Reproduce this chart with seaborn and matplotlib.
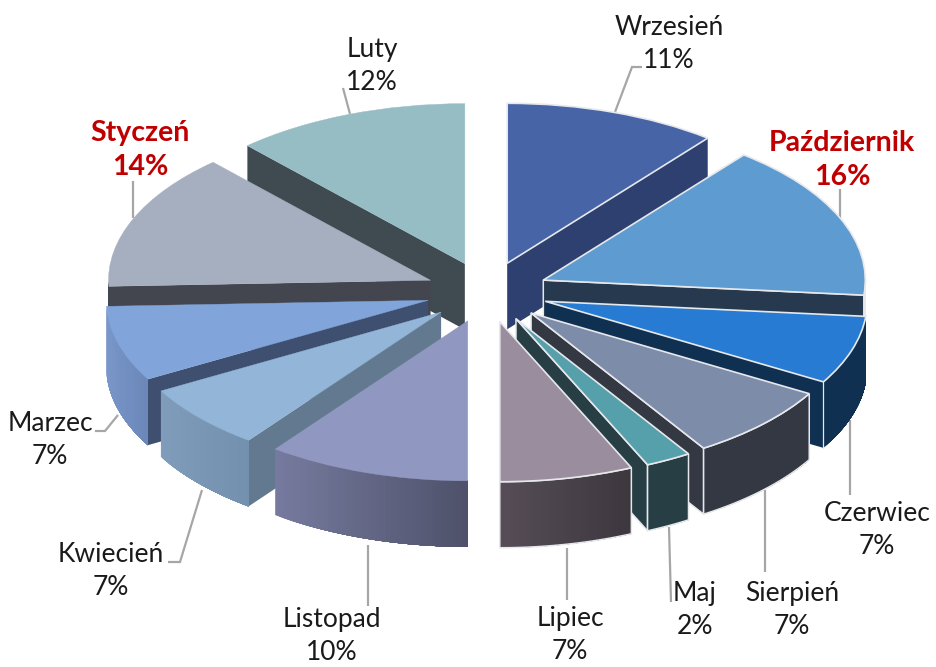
import numpy as np
import matplotlib
matplotlib.use("Agg")
import matplotlib.pyplot as plt
import seaborn as sns

# ---- data ----
months = ["Wrzesień", "Październik", "Czerwiec", "Sierpień", "Maj", "Lipiec",
          "Listopad", "Kwiecień", "Marzec", "Styczeń", "Luty"]
# printed percentages
labels_pct = [11, 16, 7, 7, 2, 7, 10, 7, 7, 14, 12]
# slice sizes as measured on the picture
slice_sizes = [10.7, 15.8, 6.9, 7.6, 2.3, 6.7, 10.2, 6.6, 7.6, 13.8, 11.8]
highlighted = ["Październik", "Styczeń"]

# ---- styles ----
top_colors = ["#4664A6", "#5E9BD0", "#287BD2", "#7D8CA8", "#56A0AC", "#9A8D9E",
              "#9098C2", "#92B5D8", "#81A4DA", "#A5AFC0", "#96BCC4"]
cut_colors = ["#2E4070", "#26394F", "#103052", "#333842", "#263E44", "#3E383F",
              "#50536C", "#63798F", "#3F4F70", "#44464F", "#3F4B50"]
rim_left = ["#2E4070", "#26394F", "#103052", "#333842", "#263E44", "#564D57",
            "#767A9E", "#7F9CBB", "#7A96CA", "#44464F", "#3F4B50"]
rim_right = ["#2E4070", "#26394F", "#103052", "#333842", "#263E44", "#3C363D",
             "#4E5169", "#7391AF", "#6A87B8", "#44464F", "#3F4B50"]
top_outlined = [True] * 6 + [False] * 5
cut_outlined = [False, True, False, True, True, False, False, False, False, False, False]
rim_outlined = [False, True, False, True, True, True, False, False, False, False, False]

W, H = 937, 667
CX, CY, RX, RY = 487, 292, 322, 160
EXPLODE = 0.19
DEPTH = 66 / RY
EDGE = "#E6E8EC"

sns.set_theme(style="white")
plt.rcParams["font.family"] = ["Lato", "DejaVu Sans"]

fig = plt.figure(figsize=(W / 100, H / 100), dpi=100, facecolor="white")
ax = fig.add_axes([0, 0, 1, 1])

wedges, _ = ax.pie(slice_sizes, colors=top_colors, startangle=90, counterclock=False,
                   explode=[EXPLODE] * len(slice_sizes), radius=1)
ax.set_aspect("auto")
ax.set_xlim(-CX / RX, (W - CX) / RX)
ax.set_ylim((CY - H) / RY, CY / RY)
ax.axis("off")

sizes = np.array(slice_sizes, dtype=float)
edges = np.concatenate([[0], np.cumsum(sizes)]) / sizes.sum() * 2 * np.pi
mids = (edges[:-1] + edges[1:]) / 2
# painter's order: slices whose apex is further back are drawn first
order = np.argsort(-np.cos(mids))

for rank, i in enumerate(order):
    z = 10 + rank * 5
    a0, a1 = edges[i], edges[i + 1]
    ox, oy = EXPLODE * np.sin(mids[i]), EXPLODE * np.cos(mids[i])
    line = dict(edgecolor=EDGE, linewidth=1.1) if cut_outlined[i] else dict(linewidth=0)

    # radial cut faces turned towards the viewer
    for a, show in ((a1, 0.01 < a1 < np.pi - 0.01), (a0, np.pi + 0.01 < a0 < 2 * np.pi - 0.01)):
        if show:
            px, py = ox + np.sin(a), oy + np.cos(a)
            ax.fill([ox, px, px, ox], [oy, py, py - DEPTH, oy - DEPTH],
                    facecolor=cut_colors[i], zorder=z, joinstyle="round", **line)

    # outer wall, front half only; each band runs to the far end so no seams show
    lo, hi = max(a0, np.pi / 2), min(a1, 3 * np.pi / 2)
    if hi > lo:
        angs = np.linspace(lo, hi, 41)
        xs, ys = ox + np.sin(angs), oy + np.cos(angs)
        xmin, xmax = xs.min(), xs.max()
        pal = sns.blend_palette([rim_left[i], rim_right[i]], 41)
        # bands ordered from the left end of the wall to the right end
        seq = np.argsort(xs)
        xs_o, ys_o = xs[seq], ys[seq]
        for k in range(40):
            t = (xs_o[k] - xmin) / max(xmax - xmin, 1e-6)
            c = pal[int(round(t * 40))]
            ax.fill(np.r_[xs_o[k:], xs_o[k:][::-1]], np.r_[ys_o[k:], ys_o[k:][::-1] - DEPTH],
                    facecolor=c, linewidth=0, zorder=z + 1)
        if rim_outlined[i]:
            ax.fill(np.r_[xs, xs[::-1]], np.r_[ys, ys[::-1] - DEPTH],
                    facecolor="none", edgecolor=EDGE, linewidth=1.1, zorder=z + 2)
        elif top_outlined[i]:
            # only the front corner is picked out
            ax.plot([xs[-1], xs[-1]], [ys[-1], ys[-1] - DEPTH], color=EDGE, lw=0.9, zorder=z + 2)

    # top face, drawn by the pie itself
    wedges[i].set_zorder(z + 3)
    if top_outlined[i]:
        wedges[i].set_edgecolor(EDGE)
        wedges[i].set_linewidth(1.2)
    else:
        wedges[i].set_edgecolor(top_colors[i])
        wedges[i].set_linewidth(0.3)


def to_data(x, y):
    return (x - CX) / RX, (CY - y) / RY


# label centres in image pixels
label_pos = {"Wrzesień": (669, 44), "Październik": (842, 160), "Czerwiec": (877, 530),
             "Sierpień": (792, 610), "Maj": (695, 610), "Lipiec": (570, 635),
             "Listopad": (332, 636), "Kwiecień": (111, 571), "Marzec": (50, 440),
             "Styczeń": (140, 150), "Luty": (372, 66)}
leaders = {"Wrzesień": [(615, 112), (632, 67), (642, 67)],
           "Październik": [(840, 220), (840, 189)],
           "Czerwiec": [(850, 420), (850, 495)],
           "Sierpień": [(765, 490), (765, 572)],
           "Maj": [(669, 527), (671, 602)],
           "Lipiec": [(567, 548), (567, 600)],
           "Listopad": [(368, 545), (368, 606)],
           "Kwiecień": [(202, 490), (180, 562), (168, 562)],
           "Marzec": [(118, 415), (105, 431), (95, 431)],
           "Styczeń": [(133, 218), (133, 181)],
           "Luty": [(350, 114), (343, 88)]}

for name, val in zip(months, labels_pct):
    pts = [to_data(*p) for p in leaders[name]]
    ax.plot([p[0] for p in pts], [p[1] for p in pts], color="#A6A6A6", lw=1.6,
            zorder=5, solid_capstyle="butt", solid_joinstyle="miter")
    x, y = to_data(*label_pos[name])
    hot = name in highlighted
    ax.text(x, y, f"{name}\n{val}%", ha="center", va="center",
            linespacing=1.34 if hot else 1.44,
            fontsize=20.5 if hot else 19, color="#C00000" if hot else "#1A1A1A",
            fontweight="bold" if hot else "normal", zorder=100)

fig.savefig("out.png", dpi=100, facecolor="white")
